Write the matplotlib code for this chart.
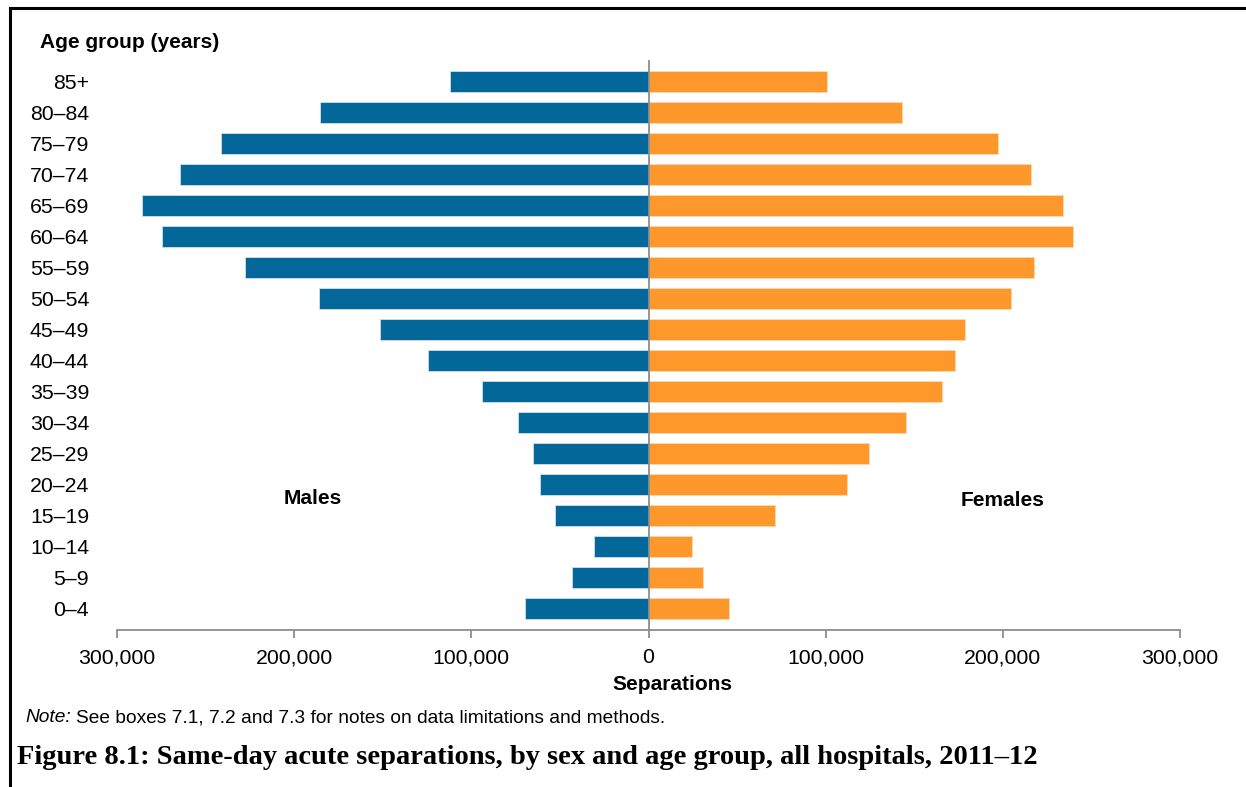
import matplotlib
matplotlib.use("Agg")
import matplotlib.pyplot as plt
from matplotlib.lines import Line2D
from matplotlib.ticker import FuncFormatter
import numpy as np

# age groups, bottom to top
ages = ["0–4", "5–9", "10–14", "15–19", "20–24", "25–29", "30–34", "35–39",
        "40–44", "45–49", "50–54", "55–59", "60–64", "65–69", "70–74",
        "75–79", "80–84", "85+"]

males = [69900, 43400, 31000, 52500, 61500, 65400, 73900, 94200,
         124600, 151700, 186100, 227900, 274700, 286000, 264500,
         241400, 185600, 112200]

females = [45700, 30500, 24800, 71600, 112200, 124600, 145500, 165800,
           173200, 178800, 204700, 217700, 239700, 234100, 216000,
           197400, 143300, 101000]

xticks = [-300000, -200000, -100000, 0, 100000, 200000, 300000]

blue = "#03679A"
orange = "#FE982A"

plt.rcParams["font.family"] = ["Liberation Sans", "DejaVu Sans"]

W, H = 1246, 787
fig = plt.figure(figsize=(W / 100, H / 100), dpi=100)
ax = fig.add_axes([117 / W, 1 - 630 / H, (1180 - 117) / W, (630 - 60) / H])

y = np.arange(len(ages))
ax.barh(y, -np.array(males), height=0.68, color=blue, edgecolor="#cfe0ea", linewidth=0.6)
ax.barh(y, females, height=0.68, color=orange, edgecolor="#ffd9b0", linewidth=0.6)
ax.axvline(0, color="#8c8c8c", lw=1.3, zorder=3)

ax.set_xlim(-300000, 300000)
ax.set_ylim(-0.68, 17.68)
ax.set_xticks(xticks)
ax.xaxis.set_major_formatter(FuncFormatter(lambda v, p: f"{abs(int(v)):,}"))
ax.set_yticks(y)
ax.set_yticklabels(ages)

for s in ["top", "right", "left"]:
    ax.spines[s].set_visible(False)
ax.spines["bottom"].set_color("#8c8c8c")
ax.spines["bottom"].set_linewidth(1.3)
ax.tick_params(axis="x", length=6, width=1.3, color="#8c8c8c", labelsize=15.3, pad=7)
ax.tick_params(axis="y", length=0, labelsize=15.3, pad=20)

def ft(x, yy, s, **kw):
    return fig.text(x / W, 1 - yy / H, s, **kw)

ft(40, 42, "Age group (years)", fontsize=15, fontweight="bold", va="center", ha="left")
ft(313, 498, "Males", fontsize=15, fontweight="bold", va="center", ha="center")
ft(1003, 500, "Females", fontsize=15, fontweight="bold", va="center", ha="center")
ft(672, 685, "Separations", fontsize=15, fontweight="bold", va="center", ha="center")

# note line: italic "Note:" followed by regular text
t1 = ft(25, 718, "Note:", fontsize=13.8, fontstyle="italic", va="center", ha="left")
r = fig.canvas.get_renderer()
x2 = t1.get_window_extent(r).x1 + 5
ft(x2, 718, "See boxes 7.1, 7.2 and 7.3 for notes on data limitations and methods.",
   fontsize=13.8, va="center", ha="left")
ft(17, 758, "Figure 8.1: Same-day acute separations, by sex and age group, all hospitals, 2011–12",
   fontsize=20.5, fontweight="bold", family="Liberation Serif", va="center", ha="left")

# frame lines at top and left
fig.add_artist(Line2D([10 / W, 1.0], [1 - 8 / H, 1 - 8 / H], color="black", lw=2.2,
                      transform=fig.transFigure))
fig.add_artist(Line2D([10 / W, 10 / W], [0, 1 - 8 / H], color="black", lw=2.2,
                      transform=fig.transFigure))

fig.savefig("out.png", dpi=100)
